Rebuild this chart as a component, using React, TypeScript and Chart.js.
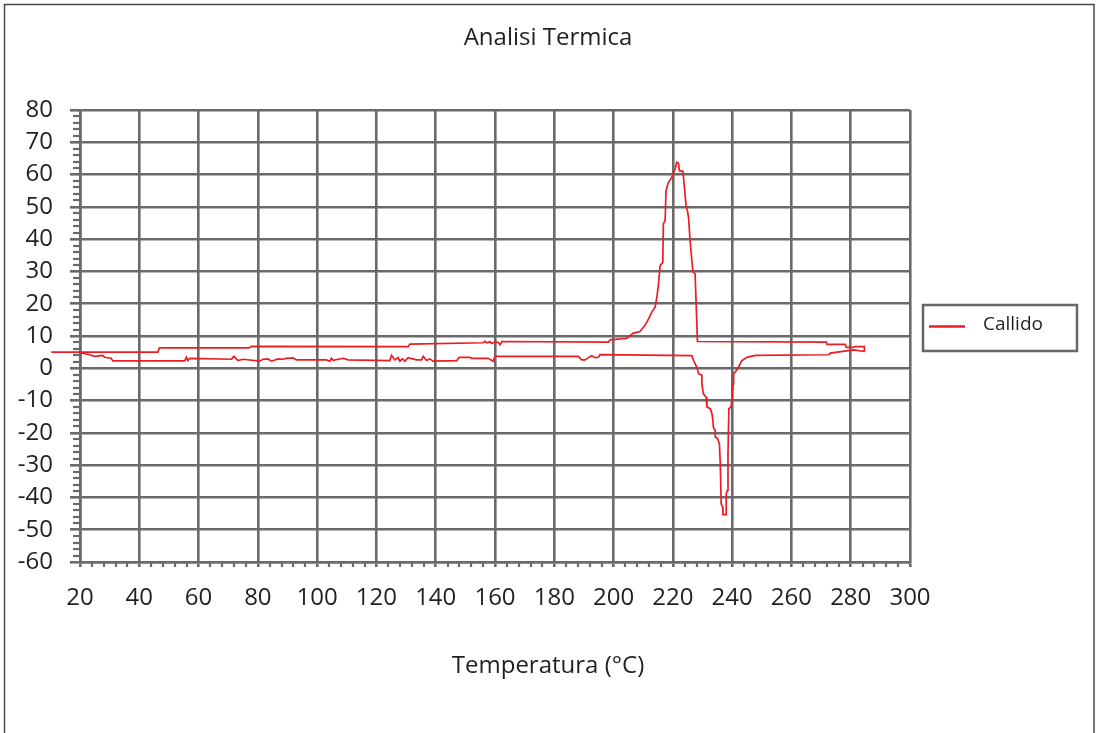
import React, { useEffect, useRef } from "react";
import { Chart, registerables } from "chart.js";

Chart.register(...registerables);

// ---- data ----
const chartTitle = "Analisi Termica";
const xAxisTitle = "Temperatura (°C)";
const seriesLabel = "Callido";

const xMin = 20;
const xMax = 300;
const xStep = 20;
const yMin = -60;
const yMax = 80;
const yStep = 10;

// heating run (lower path, left -> right)
const heatingTemp = [
  20.0, 23.2, 24.9, 27.7, 28.3, 30.5, 31.1, 55.3, 55.9, 56.4, 57.0, 71.1, 71.9, 73.3, 75.0,
  80.6, 81.7, 83.4, 84.6, 86.8, 88.5, 89.6, 91.9, 93.0, 103.1, 104.3, 104.8, 105.4, 108.8, 110.4,
  124.5, 125.1, 126.2, 127.3, 127.9, 128.8, 129.6, 130.7, 133.5, 135.2, 135.8, 136.9, 138.0, 139.1,
  147.1, 147.9, 151.5, 152.1, 157.7, 159.4, 160.0, 188.1, 189.3, 190.4, 191.5, 192.6, 193.8, 194.9, 195.4,
  226.4, 227.0, 228.1, 228.7, 229.8, 229.8, 230.3, 231.2, 231.5, 232.6, 233.2, 233.5, 233.7, 234.3, 234.3,
  235.1, 235.7, 236.0, 236.3, 236.8, 236.9, 238.0, 238.0, 238.4, 238.6, 238.9, 239.6, 239.9, 240.3, 240.5,
  241.0, 241.8, 243.3, 245.0, 247.8, 272.6, 273.1, 281.0, 284.7,
];
const heatingFlow = [
  4.8, 4.2, 3.7, 4.0, 3.4, 3.1, 2.3, 2.3, 3.4, 2.4, 3.1, 2.8, 3.7, 2.4, 2.8,
  2.2, 2.8, 2.9, 2.2, 2.9, 2.8, 3.1, 3.2, 2.6, 2.6, 2.2, 3.1, 2.5, 3.1, 2.6,
  2.4, 4.0, 2.6, 3.3, 2.2, 2.9, 2.2, 3.3, 2.6, 2.6, 3.7, 2.4, 2.9, 2.2,
  2.4, 3.4, 3.4, 3.1, 3.1, 2.2, 3.7, 3.7, 2.6, 2.6, 3.3, 3.9, 3.3, 3.4, 4.2,
  3.9, 2.4, 0.3, -1.7, -2.2, -4.8, -7.9, -8.9, -12.0, -12.5, -14.1, -16.2, -18.4, -19.3, -21.3,
  -21.8, -23.4, -29.6, -42.0, -43.0, -45.3, -45.3, -38.9, -37.8, -26.5, -12.5, -12.0, -10.0, -4.8, -1.7,
  -1.2, -0.2, 2.4, 3.4, 4.0, 4.2, 4.7, 5.7, 5.2,
];

// cooling run (upper path, right -> left)
const coolingTemp = [
  284.6, 281.3, 281.0, 278.5, 278.2, 272.0, 271.8, 228.3, 227.9, 227.5, 226.8, 226.2, 225.8, 225.3, 224.9,
  224.5, 223.8, 223.4, 222.2, 221.9, 221.3, 220.8, 220.2, 219.7, 218.5, 217.7, 217.4, 216.8, 216.6, 215.7,
  215.1, 214.6, 214.0, 212.9, 211.8, 210.6, 208.9, 206.7, 204.5, 198.8, 198.3, 162.3, 161.7, 161.1, 160.0,
  158.9, 158.3, 157.2, 156.6, 156.0, 131.3, 130.7, 77.8, 77.0, 46.8, 46.3, 20.0, 10.3,
];
const coolingFlow = [
  6.7, 6.7, 6.5, 6.5, 7.4, 7.4, 8.1, 8.3, 18.9, 29.3, 29.8, 35.4, 39.6, 46.6, 48.9,
  49.9, 57.1, 61.0, 61.2, 63.5, 63.8, 61.8, 60.7, 59.2, 57.6, 55.0, 45.8, 44.7, 32.8, 31.8,
  25.6, 22.0, 18.9, 17.4, 15.3, 13.3, 11.4, 10.9, 9.3, 8.8, 8.1, 8.3, 7.3, 8.0, 8.2,
  7.7, 8.2, 7.9, 8.4, 7.9, 7.5, 6.7, 6.8, 6.3, 6.3, 5.0, 5.0, 5.0,
];

// ---- styling ----
const FONT = "'Open Sans', 'Noto Sans', sans-serif";
const TEXT = "#231f20";
const GRID = "#6a6a6a";
const RED = "#ed1c24";
const W = 1096;
const H = 733;

export default function App() {
  const ref = useRef<HTMLCanvasElement>(null);

  useEffect(() => {
    if (!ref.current) return;
    const points = [
      ...heatingTemp.map((t, i) => ({ x: t, y: heatingFlow[i] })),
      ...coolingTemp.map((t, i) => ({ x: t, y: coolingFlow[i] })),
    ];

    const decor = {
      id: "decor",
      beforeDraw(chart: any) {
        const ctx = chart.ctx;
        ctx.save();
        ctx.fillStyle = "#ffffff";
        ctx.fillRect(0, 0, chart.width, chart.height);
        ctx.strokeStyle = "#4a4a4a";
        ctx.lineWidth = 1.5;
        ctx.strokeRect(4.5, 4.5, 1089.5, 760);
        ctx.restore();
      },
      afterDraw(chart: any) {
        const ctx = chart.ctx;
        const xs = chart.scales.x;
        const ys = chart.scales.y;
        const area = chart.chartArea;
        ctx.save();
        // minor ticks
        ctx.strokeStyle = GRID;
        ctx.lineWidth = 2.2;
        for (let v = yMin; v <= yMax; v += 2) {
          if (v % yStep === 0) continue;
          const py = Math.round(ys.getPixelForValue(v));
          ctx.beginPath();
          ctx.moveTo(area.left - 7, py);
          ctx.lineTo(area.left, py);
          ctx.stroke();
        }
        for (let v = xMin; v <= xMax; v += 4) {
          if ((v - xMin) % xStep === 0) continue;
          const px = Math.round(xs.getPixelForValue(v));
          ctx.beginPath();
          ctx.moveTo(px, area.bottom);
          ctx.lineTo(px, area.bottom + 5);
          ctx.stroke();
        }
        // titles
        ctx.fillStyle = TEXT;
        ctx.textAlign = "center";
        ctx.textBaseline = "middle";
        ctx.font = `24px ${FONT}`;
        ctx.fillText(chartTitle, 548, 38);
        ctx.fillText(xAxisTitle, 548, 666);
        // legend
        ctx.fillStyle = "#ffffff";
        ctx.fillRect(923, 305, 154, 46);
        ctx.strokeStyle = "#666666";
        ctx.lineWidth = 2.5;
        ctx.strokeRect(923, 305, 154, 46);
        ctx.strokeStyle = RED;
        ctx.lineWidth = 2.5;
        ctx.beginPath();
        ctx.moveTo(929, 326.5);
        ctx.lineTo(965, 326.5);
        ctx.stroke();
        ctx.fillStyle = TEXT;
        ctx.textAlign = "left";
        ctx.font = `19px ${FONT}`;
        ctx.fillText(chart.data.datasets[0].label, 983, 325);
        ctx.restore();
      },
    };

    const chart = new Chart(ref.current, {
      type: "scatter",
      data: {
        datasets: [
          {
            label: seriesLabel,
            data: points,
            showLine: true,
            borderColor: RED,
            backgroundColor: RED,
            borderWidth: 1.7,
            pointRadius: 0,
            pointHoverRadius: 0,
            fill: false,
            tension: 0,
            clip: false as any,
          },
        ],
      },
      options: {
        responsive: false,
        animation: false,
        events: [],
        layout: { padding: { left: 0, top: 110, right: W - 910, bottom: 0 } },
        plugins: {
          legend: { display: false },
          title: { display: false },
          tooltip: { enabled: false },
        },
        scales: {
          x: {
            type: "linear",
            min: xMin,
            max: xMax,
            ticks: {
              stepSize: xStep,
              color: TEXT,
              padding: 17,
              font: { family: FONT, size: 24 },
              maxRotation: 0,
            },
            grid: { color: GRID, lineWidth: 2.6, tickLength: 5, tickColor: GRID },
            border: { color: GRID, width: 2.6 },
            afterFit: (s: any) => {
              s.height = H - 562;
            },
          },
          y: {
            type: "linear",
            min: yMin,
            max: yMax,
            ticks: {
              stepSize: yStep,
              color: TEXT,
              padding: 17,
              font: { family: FONT, size: 24 },
            },
            grid: { color: GRID, lineWidth: 2.6, tickLength: 10, tickColor: GRID },
            border: { color: GRID, width: 2.6 },
            afterFit: (s: any) => {
              s.width = 80;
            },
          },
        },
      },
      plugins: [decor],
    });
    return () => chart.destroy();
  }, []);

  return (
    <div
      style={{
        position: "fixed",
        left: 0,
        top: 0,
        width: W,
        height: H,
        overflow: "hidden",
        background: "#fff",
      }}
    >
      <canvas ref={ref} width={W} height={H} style={{ display: "block", width: W, height: H }} />
    </div>
  );
}
